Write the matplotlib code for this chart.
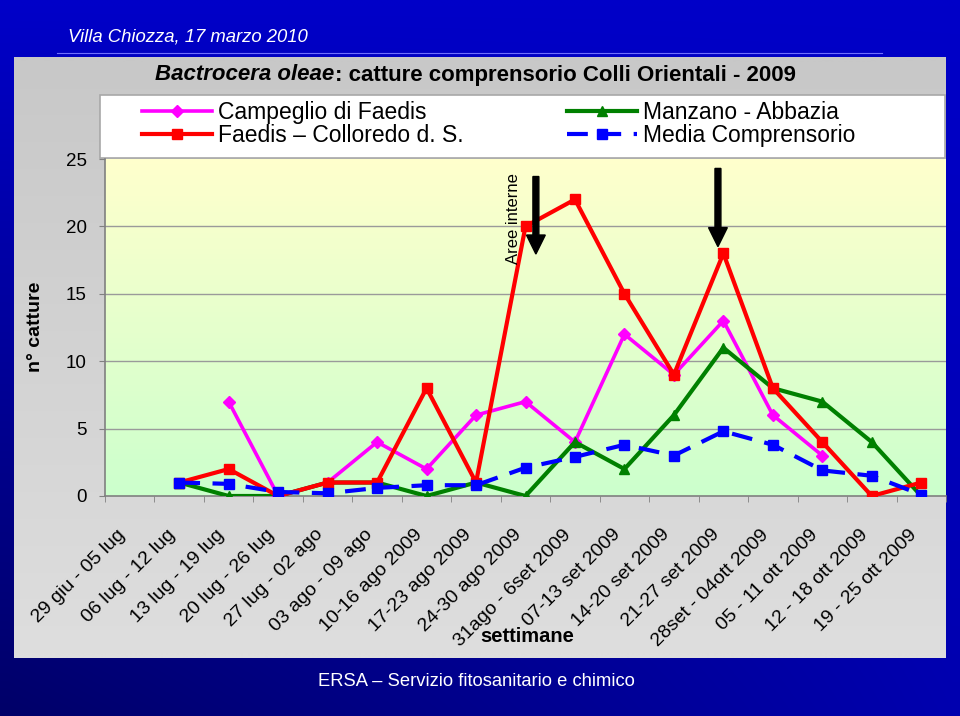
import numpy as np
import matplotlib
matplotlib.use("Agg")
import matplotlib.pyplot as plt
from matplotlib.patches import Rectangle

plt.rcParams['font.family'] = ['Liberation Sans', 'DejaVu Sans']

nan = np.nan
settimane = ['29 giu - 05 lug', '06 lug - 12 lug', '13 lug - 19 lug', '20 lug - 26 lug',
             '27 lug - 02 ago', '03 ago - 09 ago', '10-16 ago 2009', '17-23 ago 2009',
             '24-30 ago 2009', '31ago - 6set 2009', '07-13 set 2009', '14-20 set 2009',
             '21-27 set 2009', '28set - 04ott 2009', '05 - 11 ott 2009', '12 - 18 ott 2009',
             '19 - 25 ott 2009']
campeglio = [nan, nan, 7, 0, 1, 4, 2, 6, 7, 4, 12, 9, 13, 6, 3, nan, nan]
faedis = [nan, 1, 2, 0, 1, 1, 8, 1, 20, 22, 15, 9, 18, 8, 4, 0, 1]
manzano = [nan, 1, 0, 0, 1, 1, 0, 1, 0, 4, 2, 6, 11, 8, 7, 4, 0]
media = [nan, 1.0, 0.9, 0.3, 0.2, 0.6, 0.8, 0.8, 2.1, 2.9, 3.8, 3.0, 4.8, 3.8, 1.9, 1.5, 0.1]
y_ticks = [0, 5, 10, 15, 20, 25]

W, H = 960, 716
fig = plt.figure(figsize=(W / 100, H / 100), dpi=100)

# slide background (pixel coordinates)
bg = fig.add_axes([0, 0, 1, 1], zorder=-5)
bg.set_xlim(0, W)
bg.set_ylim(H, 0)
bg.axis('off')
gx = np.linspace(0, 1, 64)[None, :]
gy = np.linspace(0, 1, 64)[:, None]
blue = 200 - 95 * gy * (1 - gx) - 25 * gy * gx
img = np.zeros((64, 64, 3))
img[..., 2] = blue / 255
bg.imshow(img, extent=[0, W, H, 0], aspect='auto', interpolation='bilinear')
gray = np.linspace(200, 222, 64)[:, None, None] / 255 * np.ones((64, 2, 3))
bg.imshow(gray, extent=[14, 946, 658, 57], aspect='auto', interpolation='bilinear')
bg.plot([57, 882], [53, 53], color='#6F6FFF', lw=0.8)
bg.add_patch(Rectangle((100, 95), 845, 63, facecolor='white', edgecolor='#A8A8A8', lw=1.2))
bg.set_xlim(0, W)
bg.set_ylim(H, 0)

fig.text(68 / W, 1 - 37 / H, 'Villa Chiozza, 17 marzo 2010', color='white',
         style='italic', fontsize=13.3, va='center')
fig.text(476 / W, 1 - 681 / H, 'ERSA – Servizio fitosanitario e chimico', color='white',
         fontsize=13.2, ha='center', va='center')

# title: italic species name + bold rest
t1 = fig.text(155 / W, 1 - 75 / H, 'Bactrocera oleae', fontsize=16, weight='bold',
              style='italic', va='center')
r = fig.canvas.get_renderer()
w1 = t1.get_window_extent(r).width
fig.text((155 + w1 + 1) / W, 1 - 75 / H, ': catture comprensorio Colli Orientali - 2009',
         fontsize=16, weight='bold', va='center')

# chart
ax = fig.add_axes([105 / W, 1 - 496 / H, (946 - 105) / W, (496 - 159) / H])
x = np.arange(len(settimane))
ax.set_xlim(-0.5, len(settimane) - 0.5)
ax.set_ylim(0, 25)
grad = np.linspace(0, 1, 64)[:, None]
cols = np.zeros((64, 2, 3))
cols[..., 0] = (204 + 51 * grad) / 255
cols[..., 1] = 1.0
cols[..., 2] = 204 / 255
ax.imshow(cols, extent=[-0.5, len(settimane) - 0.5, 0, 25], origin='lower',
          aspect='auto', zorder=0)
for v in y_ticks[1:-1]:
    ax.axhline(v, color='#9A9A9A', lw=1, zorder=1)

ax.plot(x, campeglio, color='#FF00FF', lw=2.6, marker='D', ms=6, zorder=3,
        label='Campeglio di Faedis')
ax.plot(x, faedis, color='#FF0000', lw=3, marker='s', ms=7, zorder=5,
        label='Faedis – Colloredo d. S.')
ax.plot(x, manzano, color='#008000', lw=3, marker='^', ms=7, zorder=4,
        label='Manzano - Abbazia')
ax.plot(x, media, color='#0000FF', lw=3, marker='s', ms=7.5, zorder=6,
        dashes=(5, 3), label='Media Comprensorio')

# arrows and note
for ax_x, y0, y1 in [(8.21, 23.7, 17.95), (11.89, 24.3, 18.5)]:
    ax.arrow(ax_x, y0, 0, y1 - y0, width=0.12, head_width=0.38, head_length=1.41,
             length_includes_head=True, color='black', zorder=7)
ax.text(7.75, 20.6, 'Aree interne', rotation=90, fontsize=12, ha='center', va='center',
        zorder=7)

for s in ['top', 'right']:
    ax.spines[s].set_visible(False)
for s in ['left', 'bottom']:
    ax.spines[s].set_color('#808080')
    ax.spines[s].set_linewidth(1.2)

ax.set_yticks(y_ticks)
ax.set_yticklabels([str(v) for v in y_ticks], fontsize=13.5)
ax.tick_params(axis='y', length=4, color='#808080', pad=9)
# labels anchored slightly left of the category centre (invisible major ticks)
ax.set_xticks(x - 0.14)
ax.set_xticklabels(settimane, rotation=45, ha='right', va='center',
                   rotation_mode='anchor', fontsize=14)
ax.set_xticks(np.arange(-0.5, len(settimane)), minor=True)
ax.tick_params(axis='x', which='major', length=0, pad=26)
ax.tick_params(axis='x', which='minor', length=4, color='#808080')

fig.text(527 / W, 1 - 636 / H, 'settimane', fontsize=14.5, weight='bold',
         ha='center', va='center')
fig.text(35 / W, 1 - 327 / H, 'n° catture', fontsize=14, weight='bold',
         rotation=90, ha='center', va='center')

# legend in two blocks
h, l = ax.get_legend_handles_labels()
leg_kw = dict(frameon=False, fontsize=16.5, handlelength=3.05, handletextpad=0.26,
              borderpad=0, borderaxespad=0, labelspacing=0.0, loc='upper left')
fig.legend(h[:2], l[:2], bbox_to_anchor=(142 / W, 1 - 101 / H), **leg_kw)
fig.legend(h[2:], l[2:], bbox_to_anchor=(567 / W, 1 - 101 / H), **leg_kw)

fig.savefig('out.png', dpi=100)
